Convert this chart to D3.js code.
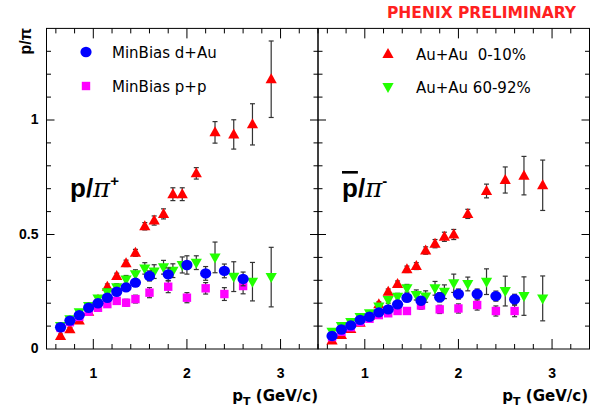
<!DOCTYPE html>
<html>
<head>
<meta charset="utf-8">
<script src="https://cdn.jsdelivr.net/npm/d3@7"></script>
<style>
  body { margin: 0; background: #fff; }
  svg { display: block; font-family: "Liberation Sans", Arial, sans-serif; }
</style>
</head>
<body>
<div id="chart"></div>
<script>
// pT bins
const ptAA = [0.65, 0.75, 0.85, 0.95, 1.05, 1.15, 1.25, 1.35, 1.45, 1.55, 1.65, 1.75, 1.85, 1.95, 2.1, 2.3, 2.5, 2.7, 2.9];
const ptDA = [0.65, 0.75, 0.85, 0.95, 1.05, 1.15, 1.25, 1.35, 1.45, 1.6, 1.8, 2.0, 2.2, 2.4, 2.6];

// left panel: p / pi+
const centralPos    = [0.057, 0.086, 0.124, 0.163, 0.215, 0.272, 0.319, 0.374, 0.42, 0.536, 0.561, 0.59, 0.676, 0.676, 0.767, 0.946, 0.937, 0.981, 1.178];
const centralPosErr = [0.008, 0.008, 0.008, 0.01, 0.01, 0.012, 0.012, 0.014, 0.015, 0.016, 0.02, 0.022, 0.028, 0.028, 0.025, 0.047, 0.064, 0.09, 0.167];
const periphPos     = [0.10, 0.13, 0.16, 0.188, 0.221, 0.248, 0.27, 0.304, 0.326, 0.352, 0.338, 0.357, 0.342, 0.367, 0.377, 0.40, 0.316, 0.294, 0.314];
const periphPosErr  = [0.008, 0.008, 0.01, 0.01, 0.012, 0.014, 0.015, 0.017, 0.02, 0.025, 0.03, 0.03, 0.03, 0.035, 0.03, 0.067, 0.065, 0.084, 0.13];
const dAuPos        = [0.095, 0.124, 0.148, 0.18, 0.2, 0.224, 0.25, 0.269, 0.29, 0.319, 0.326, 0.367, 0.33, 0.341, 0.306];
const dAuPosErr     = [0.006, 0.006, 0.007, 0.008, 0.01, 0.012, 0.014, 0.015, 0.017, 0.022, 0.028, 0.04, 0.03, 0.03, 0.03];
const ppPos         = [0.092, 0.117, 0.14, 0.163, 0.18, 0.196, 0.21, 0.202, 0.218, 0.246, 0.272, 0.224, 0.265, 0.24, 0.275];
const ppPosErr      = [0.006, 0.007, 0.008, 0.01, 0.012, 0.014, 0.015, 0.015, 0.017, 0.022, 0.026, 0.022, 0.025, 0.028, 0.034];

// right panel: pbar / pi-
const centralNeg    = [0.037, 0.061, 0.087, 0.115, 0.145, 0.195, 0.25, 0.284, 0.348, 0.362, 0.43, 0.46, 0.49, 0.50, 0.59, 0.69, 0.738, 0.757, 0.715];
const centralNegErr = [0.006, 0.007, 0.008, 0.009, 0.01, 0.011, 0.012, 0.013, 0.014, 0.015, 0.016, 0.018, 0.02, 0.022, 0.02, 0.03, 0.057, 0.084, 0.11];
const periphNeg     = [0.075, 0.1, 0.118, 0.14, 0.156, 0.186, 0.214, 0.228, 0.265, 0.236, 0.229, 0.265, 0.25, 0.287, 0.284, 0.294, 0.253, 0.231, 0.221];
const periphNegErr  = [0.008, 0.008, 0.009, 0.01, 0.01, 0.012, 0.014, 0.015, 0.017, 0.022, 0.025, 0.03, 0.03, 0.04, 0.03, 0.056, 0.065, 0.084, 0.098];
const dAuNeg        = [0.057, 0.085, 0.103, 0.127, 0.141, 0.16, 0.173, 0.195, 0.224, 0.211, 0.226, 0.24, 0.24, 0.231, 0.217];
const dAuNegErr     = [0.005, 0.006, 0.006, 0.007, 0.008, 0.009, 0.01, 0.012, 0.014, 0.018, 0.02, 0.022, 0.022, 0.022, 0.022];
const ppNeg         = [0.052, 0.075, 0.095, 0.118, 0.132, 0.148, 0.156, 0.166, 0.166, 0.19, 0.173, 0.177, 0.192, 0.166, 0.166];
const ppNegErr      = [0.005, 0.006, 0.007, 0.008, 0.009, 0.01, 0.012, 0.012, 0.013, 0.016, 0.018, 0.02, 0.022, 0.022, 0.025];

const xTicks = [1, 2, 3];
const yTicks = [0, 0.5, 1];

const width = 590;
const height = 408;
const yTop = 28.4, yBottom = 349;
const wide = '"DejaVu Sans", Verdana, sans-serif';

const svg = d3.select('#chart')
  .append('svg')
  .attr('width', width)
  .attr('height', height);

const y = d3.scaleLinear().domain([0, 1.4]).range([yBottom, yTop]);

const panels = [
  {
    x: d3.scaleLinear().domain([0.5, 3.4]).range([46.5, 318]),
    series: [
      {pt: ptAA, v: centralPos, e: centralPosErr, shape: 'up', color: '#ff0000'},
      {pt: ptAA, v: periphPos, e: periphPosErr, shape: 'down', color: '#22ff00'},
      {pt: ptDA, v: ppPos, e: ppPosErr, shape: 'square', color: '#ff00ff'},
      {pt: ptDA, v: dAuPos, e: dAuPosErr, shape: 'circle', color: '#0000ff'}
    ]
  },
  {
    x: d3.scaleLinear().domain([0.5, 3.4]).range([318, 589.5]),
    series: [
      {pt: ptAA, v: centralNeg, e: centralNegErr, shape: 'up', color: '#ff0000'},
      {pt: ptAA, v: periphNeg, e: periphNegErr, shape: 'down', color: '#22ff00'},
      {pt: ptDA, v: ppNeg, e: ppNegErr, shape: 'square', color: '#ff00ff'},
      {pt: ptDA, v: dAuNeg, e: dAuNegErr, shape: 'circle', color: '#0000ff'}
    ]
  }
];

function marker(g, shape, color) {
  if (shape === 'circle') {
    g.append('ellipse').attr('rx', 5.6).attr('ry', 5.2).attr('fill', color);
  } else if (shape === 'square') {
    g.append('rect').attr('x', -4.2).attr('y', -4.2).attr('width', 8.4).attr('height', 8.4).attr('fill', color);
  } else if (shape === 'up') {
    g.append('path').attr('d', 'M0,-6 L5.6,4 L-5.6,4 Z').attr('fill', color);
  } else {
    g.append('path').attr('d', 'M0,6 L5.6,-4 L-5.6,-4 Z').attr('fill', color);
  }
}

const minorX = d3.range(0.6, 3.41, 0.2).map(d => +d.toFixed(1));
const minorY = d3.range(0.1, 1.4, 0.1).map(d => +d.toFixed(1));

panels.forEach((p, pi) => {
  const x = p.x;
  const g = svg.append('g');
  const x0 = x.range()[0], x1 = x.range()[1];

  // ticks (inward on all four sides)
  const tk = g.append('g').attr('stroke', '#000').attr('stroke-width', 1);
  minorX.forEach(v => {
    const len = xTicks.includes(v) ? 10 : 5;
    tk.append('line').attr('x1', x(v)).attr('x2', x(v)).attr('y1', yBottom).attr('y2', yBottom - len);
    tk.append('line').attr('x1', x(v)).attr('x2', x(v)).attr('y1', yTop).attr('y2', yTop + len);
  });
  minorY.forEach(v => {
    const len = (v === 0.5 || v === 1) ? 8 : 4.5;
    tk.append('line').attr('x1', x0).attr('x2', x0 + len).attr('y1', y(v)).attr('y2', y(v));
    tk.append('line').attr('x1', x1).attr('x2', x1 - len).attr('y1', y(v)).attr('y2', y(v));
  });

  g.append('rect')
    .attr('x', x0).attr('y', yTop)
    .attr('width', x1 - x0).attr('height', yBottom - yTop)
    .attr('fill', 'none').attr('stroke', '#000').attr('stroke-width', 1);

  // x tick labels
  g.selectAll('.xl').data(xTicks).enter().append('text')
    .attr('x', d => x(d)).attr('y', 378)
    .attr('text-anchor', 'middle')
    .attr('font-size', 14).attr('font-weight', 'bold')
    .text(d => d);

  // x title
  const xt = g.append('text')
    .attr('x', pi === 0 ? 318 : 588).attr('y', 401)
    .attr('text-anchor', 'end')
    .attr('font-family', wide)
    .attr('font-size', 15).attr('font-weight', 'bold');
  xt.append('tspan').text('p');
  xt.append('tspan').attr('dy', 4).attr('font-size', 11).text('T');
  xt.append('tspan').attr('dy', -4).text(' (GeV/c)');

  // data
  p.series.forEach(s => {
    const pts = s.pt.map((d, i) => ({pt: d, v: s.v[i], e: s.e[i]}));
    const eb = g.append('g').attr('stroke', '#333').attr('stroke-width', 1.2);
    pts.forEach(d => {
      eb.append('line').attr('x1', x(d.pt)).attr('x2', x(d.pt)).attr('y1', y(d.v - d.e)).attr('y2', y(d.v + d.e));
      eb.append('line').attr('x1', x(d.pt) - 2.5).attr('x2', x(d.pt) + 2.5).attr('y1', y(d.v - d.e)).attr('y2', y(d.v - d.e));
      eb.append('line').attr('x1', x(d.pt) - 2.5).attr('x2', x(d.pt) + 2.5).attr('y1', y(d.v + d.e)).attr('y2', y(d.v + d.e));
    });
    pts.forEach(d => {
      const m = g.append('g').attr('transform', 'translate(' + x(d.pt) + ',' + y(d.v) + ')');
      marker(m, s.shape, s.color);
    });
  });
});

// y tick labels
svg.selectAll('.yl').data(yTicks).enter().append('text')
  .attr('x', 38.5).attr('y', d => y(d))
  .attr('dy', '0.32em')
  .attr('text-anchor', 'end')
  .attr('font-size', 14).attr('font-weight', 'bold')
  .text(d => d);

// y title
svg.append('text')
  .attr('transform', 'translate(31,28) rotate(-90)')
  .attr('text-anchor', 'end')
  .attr('font-size', 16).attr('font-weight', 'bold')
  .text('p/π');

// panel labels
const lp = svg.append('text').attr('x', 70).attr('y', 197).attr('font-size', 26).attr('font-weight', 'bold');
lp.append('tspan').text('p/');
lp.append('tspan').attr('font-weight', 'normal').attr('font-style', 'italic').attr('font-family', '"DejaVu Serif", serif').text('π');
lp.append('tspan').attr('dy', -11).attr('font-size', 15).text('+');

const rp = svg.append('text').attr('x', 342).attr('y', 197).attr('font-size', 26).attr('font-weight', 'bold');
rp.append('tspan').attr('text-decoration', 'overline').text('p');
rp.append('tspan').text('/');
rp.append('tspan').attr('font-weight', 'normal').attr('font-style', 'italic').attr('font-family', '"DejaVu Serif", serif').text('π');
rp.append('tspan').attr('dy', -11).attr('font-size', 15).text('-');

// legends
const legends = [
  {x: 86, y: 52, dx: 26, shape: 'circle', color: '#0000ff', label: 'MinBias d+Au'},
  {x: 86, y: 86, dx: 26, shape: 'square', color: '#ff00ff', label: 'MinBias p+p'},
  {x: 388, y: 54, dx: 28, shape: 'up', color: '#ff0000', label: 'Au+Au  0-10%'},
  {x: 388, y: 87, dx: 28, shape: 'down', color: '#22ff00', label: 'Au+Au 60-92%'}
];
legends.forEach(l => {
  const m = svg.append('g').attr('transform', 'translate(' + l.x + ',' + l.y + ')');
  marker(m, l.shape, l.color);
  svg.append('text')
    .attr('x', l.x + l.dx).attr('y', l.y + 5.5)
    .attr('font-family', wide)
    .attr('font-size', 15)
    .attr('xml:space', 'preserve')
    .style('white-space', 'pre')
    .text(l.label);
});

svg.append('text')
  .attr('x', 576).attr('y', 18)
  .attr('text-anchor', 'end')
  .attr('font-family', wide)
  .attr('font-size', 15.5).attr('font-weight', 'bold')
  .attr('fill', '#ff2020')
  .text('PHENIX PRELIMINARY');
</script>
</body>
</html>
